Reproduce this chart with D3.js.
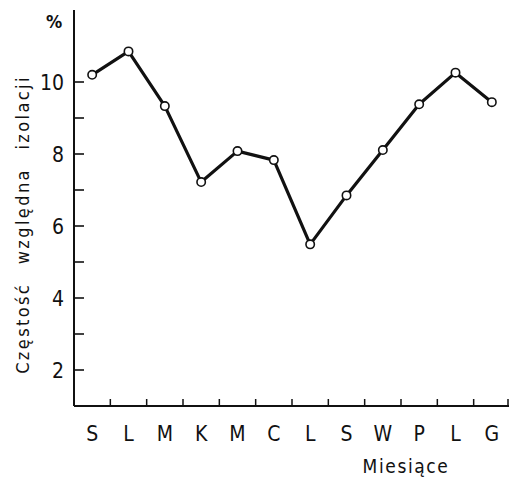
<!DOCTYPE html>
<html>
<head>
<meta charset="utf-8">
<script src="https://cdn.jsdelivr.net/npm/d3@7"></script>
<style>
  html, body { margin: 0; padding: 0; background: #fff; }
  svg { display: block; }
  text { font-family: "DejaVu Sans Condensed", "DejaVu Sans", sans-serif; fill: #111; }
</style>
</head>
<body>
<svg id="chart" width="509" height="479"></svg>
<script>
// Miesiące (months, starting with January)
const months = ["S", "L", "M", "K", "M", "C", "L", "S", "W", "P", "L", "G"];
// Częstość względna izolacji, %
const frequency = [10.2, 10.85, 9.33, 7.22, 8.08, 7.83, 5.49, 6.85, 8.11, 9.38, 10.26, 9.44];
const yMajorTicks = [2, 4, 6, 8, 10];
const yMinorTicks = [3, 5, 7, 9];

const svg = d3.select("#chart");
const plot = { left: 74, right: 510, top: 10, bottom: 406 };

const x = d3.scaleBand()
  .domain(d3.range(months.length))
  .range([plot.left, plot.right])
  .paddingInner(0).paddingOuter(0);

const y = d3.scaleLinear().domain([1, 12]).range([plot.bottom, plot.top]);

const ink = "#111";

// Y axis: ticks point inward, labels on the left
const yAxis = svg.append("g").attr("transform", `translate(${plot.left},0)`);
yAxis.append("line")
  .attr("x1", 0).attr("x2", 0)
  .attr("y1", y(12)).attr("y2", y(1))
  .attr("stroke", ink).attr("stroke-width", 2);
yAxis.selectAll("line.tick").data(yMajorTicks.concat(yMinorTicks)).join("line")
  .attr("class", "tick")
  .attr("x1", 0).attr("x2", 10)
  .attr("y1", d => y(d)).attr("y2", d => y(d))
  .attr("stroke", ink).attr("stroke-width", 1.6);
yAxis.selectAll("text.tick").data(yMajorTicks).join("text")
  .attr("class", "tick")
  .attr("x", -10).attr("y", d => y(d))
  .attr("dy", "0.38em")
  .attr("text-anchor", "end")
  .attr("font-size", 21)
  .text(d => d);

// "%" unit above the axis
svg.append("text")
  .attr("x", 54).attr("y", 28)
  .attr("text-anchor", "middle")
  .attr("font-size", 18)
  .attr("font-weight", "bold")
  .text("%");

// Y axis title
svg.append("text")
  .attr("transform", `translate(29,${(67 + 382) / 2}) rotate(-90)`)
  .attr("text-anchor", "middle")
  .attr("font-size", 18)
  .attr("letter-spacing", 2.4)
  .attr("word-spacing", 11)
  .text("Częstość względna izolacji");

// X axis: band boundaries marked with short upward ticks
const xAxis = svg.append("g").attr("transform", `translate(0,${plot.bottom})`);
xAxis.append("line")
  .attr("x1", plot.left).attr("x2", 509)
  .attr("y1", 0).attr("y2", 0)
  .attr("stroke", ink).attr("stroke-width", 2);
xAxis.selectAll("line.tick").data(d3.range(1, months.length + 1)).join("line")
  .attr("class", "tick")
  .attr("x1", i => Math.min(x.step() * i + plot.left, 508))
  .attr("x2", i => Math.min(x.step() * i + plot.left, 508))
  .attr("y1", 0).attr("y2", -7)
  .attr("stroke", ink).attr("stroke-width", 1.5);
xAxis.selectAll("text.tick").data(months).join("text")
  .attr("class", "tick")
  .attr("x", (d, i) => x(i) + x.bandwidth() / 2)
  .attr("y", 35)
  .attr("text-anchor", "middle")
  .attr("font-size", 21)
  .text(d => d);

// X axis title
svg.append("text")
  .attr("x", 406).attr("y", 473)
  .attr("text-anchor", "middle")
  .attr("font-size", 19)
  .attr("letter-spacing", 1.6)
  .text("Miesiące");

// Series line and open circle markers
const line = d3.line()
  .x((d, i) => x(i) + x.bandwidth() / 2)
  .y(d => y(d));

svg.append("path")
  .datum(frequency)
  .attr("d", line)
  .attr("fill", "none")
  .attr("stroke", ink)
  .attr("stroke-width", 3.2)
  .attr("stroke-linejoin", "round");

svg.selectAll("circle.pt").data(frequency).join("circle")
  .attr("class", "pt")
  .attr("cx", (d, i) => x(i) + x.bandwidth() / 2)
  .attr("cy", d => y(d))
  .attr("r", 4.2)
  .attr("fill", "#fff")
  .attr("stroke", ink)
  .attr("stroke-width", 1.6);
</script>
</body>
</html>
